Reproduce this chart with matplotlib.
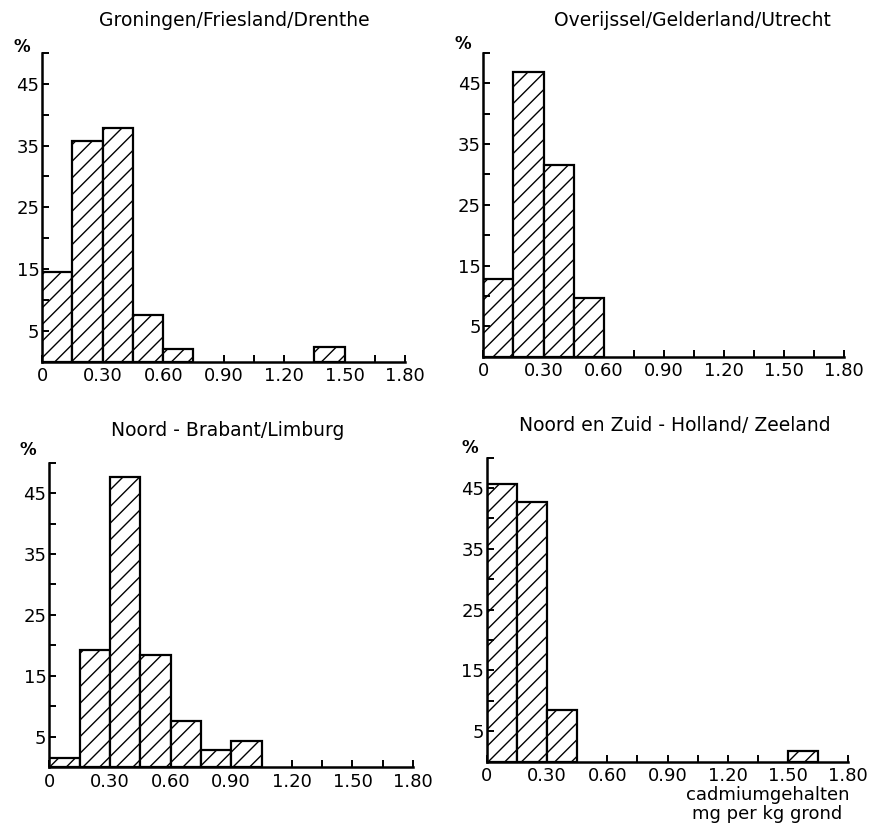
import numpy as np
import matplotlib
matplotlib.use("Agg")
import matplotlib.pyplot as plt
from matplotlib.ticker import FixedLocator

# cadmium content classes (mg per kg soil), bin edges of 0.15
bin_edges = [0.0, 0.15, 0.30, 0.45, 0.60, 0.75, 0.90, 1.05, 1.20, 1.35, 1.50, 1.65, 1.80]

titles = ["Groningen/Friesland/Drenthe",
          "Overijssel/Gelderland/Utrecht",
          "Noord - Brabant/Limburg",
          "Noord en Zuid - Holland/ Zeeland"]

# percentage of samples per class
gfd = [14.5, 35.8, 37.8, 7.6, 2.1, 0, 0, 0, 0, 2.4, 0, 0]
ogu = [12.8, 46.9, 31.6, 9.7, 0, 0, 0, 0, 0, 0, 0, 0]
nbl = [1.6, 19.3, 47.7, 18.4, 7.6, 2.8, 4.3, 0, 0, 0, 0, 0]
nzh = [45.7, 42.7, 8.5, 0, 0, 0, 0, 0, 0, 0, 1.8, 0]

x_major = [0, 0.30, 0.60, 0.90, 1.20, 1.50, 1.80]
x_labels = ["0", "0.30", "0.60", "0.90", "1.20", "1.50", "1.80"]
y_major = [5, 15, 25, 35, 45]
y_minor = [10, 20, 30, 40, 50]

plt.rcParams['font.family'] = ['DejaVu Sans']
plt.rcParams['hatch.linewidth'] = 1.0

fig = plt.figure(figsize=(8.79, 8.26), dpi=100)
# axes boxes [left, bottom, width, height]
boxes = [[0.048, 0.562, 0.413, 0.374],
         [0.550, 0.568, 0.410, 0.368],
         [0.056, 0.071, 0.414, 0.369],
         [0.554, 0.078, 0.411, 0.368]]
title_x = [0.53, 0.58, 0.49, 0.52]
pct_pos = [(-0.055, 1.02), (-0.058, 1.03), (-0.058, 1.04), (-0.047, 1.03)]

data = [gfd, ogu, nbl, nzh]
lefts = np.array(bin_edges[:-1])
width = bin_edges[1] - bin_edges[0]

for i, vals in enumerate(data):
    ax = fig.add_axes(boxes[i])
    vals = np.array(vals)
    m = vals > 0
    ax.bar(lefts[m], vals[m], width=width, align='edge', color='white',
           edgecolor='black', linewidth=1.6, hatch='//')
    ax.set_xlim(0, 1.80)
    ax.set_ylim(0, 50)
    for s in ['top', 'right']:
        ax.spines[s].set_visible(False)
    for s in ['left', 'bottom']:
        ax.spines[s].set_linewidth(1.8)
    ax.xaxis.set_major_locator(FixedLocator(x_major))
    ax.xaxis.set_minor_locator(FixedLocator([0.15, 0.45, 0.75, 1.05, 1.35, 1.65]))
    ax.set_xticklabels(x_labels)
    ax.yaxis.set_major_locator(FixedLocator(y_major))
    ax.yaxis.set_minor_locator(FixedLocator(y_minor))
    ax.tick_params(axis='both', which='both', direction='in', width=1.4,
                   labelsize=13, colors='black')
    ax.tick_params(axis='both', which='major', length=5, pad=4)
    ax.tick_params(axis='both', which='minor', length=5)
    ax.tick_params(axis='y', pad=2)
    ax.text(title_x[i], 1.105, titles[i], transform=ax.transAxes,
            ha='center', va='center', fontsize=13.5)
    ax.text(pct_pos[i][0], pct_pos[i][1], "%", transform=ax.transAxes,
            ha='center', va='center', fontsize=12, fontweight='bold')

fig.text(0.873, 0.037, "cadmiumgehalten", ha='center', va='center', fontsize=13)
fig.text(0.873, 0.015, "mg per kg grond", ha='center', va='center', fontsize=13)

fig.savefig("out.png", dpi=100, facecolor='white')
